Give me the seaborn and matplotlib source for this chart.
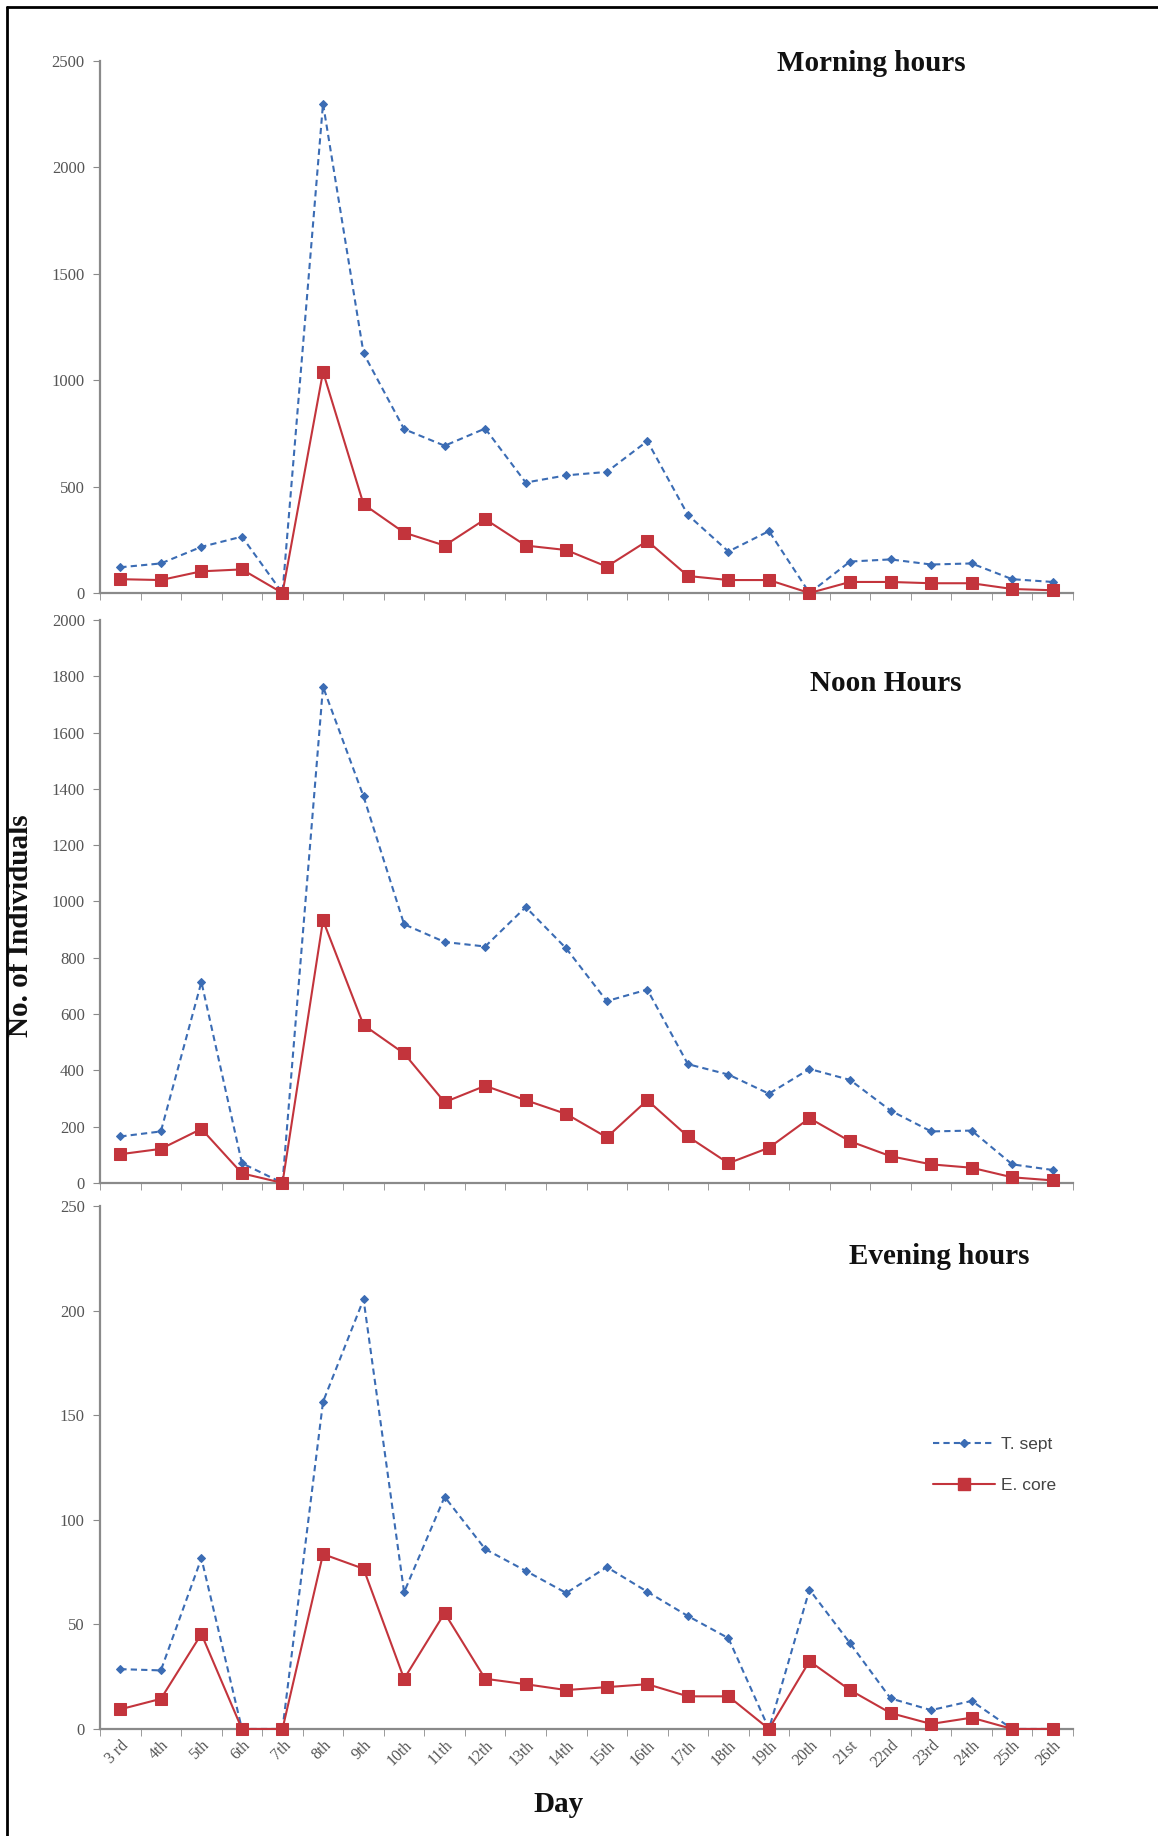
import numpy as np
import pandas as pd
import matplotlib
matplotlib.use("Agg")
import matplotlib.pyplot as plt
from matplotlib.lines import Line2D
import seaborn as sns

# days of observation
days = ["3 rd", "4th", "5th", "6th", "7th", "8th", "9th", "10th", "11th", "12th",
        "13th", "14th", "15th", "16th", "17th", "18th", "19th", "20th", "21st",
        "22nd", "23rd", "24th", "25th", "26th"]

# Morning hours
morning_tsept = [121, 139, 217, 265, 0, 2300, 1126, 770, 692, 773, 519, 553,
                 569, 714, 367, 195, 291, 0, 148, 158, 134, 139, 65, 52]
morning_ecore = [65, 61, 102, 111, 0, 1039, 417, 284, 223, 347, 223, 202,
                 124, 245, 80, 61, 61, 0, 52, 52, 46, 46, 19, 13]

# Noon hours
noon_tsept = [165, 183, 714, 70, 0, 1763, 1373, 919, 856, 840, 980, 833,
              646, 687, 422, 385, 317, 405, 366, 257, 183, 186, 66, 46]
noon_ecore = [102, 121, 192, 34, 0, 933, 561, 460, 287, 345, 294, 245,
              162, 294, 165, 70, 125, 230, 148, 95, 66, 54, 20, 9]

# Evening hours
evening_tsept = [28.6, 28, 81.6, 0, 0, 156.4, 205.4, 65.4, 111, 86, 75.6, 65,
                 77.4, 65.6, 54, 43.4, 0, 66.6, 41, 14.6, 9, 13.4, 0, 0]
evening_ecore = [9.4, 14.4, 45.4, 0, 0, 83.6, 76.6, 24, 55.4, 24, 21.4, 18.6,
                 20, 21.4, 15.6, 15.6, 0, 32.4, 18.6, 7.6, 2.4, 5.4, 0, 0]

panels = [
    ("Morning hours", morning_tsept, morning_ecore, 2500, 500, (0.793, 0.995)),
    ("Noon Hours", noon_tsept, noon_ecore, 2000, 200, (0.808, 0.888)),
    ("Evening hours", evening_tsept, evening_ecore, 250, 50, (0.863, 0.904)),
]

blue = "#3b6cb4"
red = "#c3343c"
tick_gray = "#555555"
spine_gray = "#8a8a8a"

sns.set_style("white")
plt.rcParams["font.family"] = ["Liberation Serif", "DejaVu Serif"]

fig = plt.figure(figsize=(11.58, 18.36), dpi=100)
positions = [
    [0.0864, 0.677, 0.8402, 0.2898],
    [0.0864, 0.3557, 0.8402, 0.3066],
    [0.0864, 0.0583, 0.8402, 0.2848],
]

x = np.arange(len(days))
for i, (title, tsept, ecore, ymax, ystep, tpos) in enumerate(panels):
    ax = fig.add_axes(positions[i])
    df = pd.DataFrame({"x": x, "T. sept": tsept, "E. core": ecore})
    sns.lineplot(data=df, x="x", y="T. sept", ax=ax, color=blue, lw=1.5,
                 linestyle=(0, (3, 2)), marker="D", markersize=4.5,
                 markeredgecolor=blue, zorder=3)
    sns.lineplot(data=df, x="x", y="E. core", ax=ax, color=red, lw=1.5,
                 marker="s", markersize=8, markeredgecolor=red, zorder=4)

    ax.set_xlim(-0.5, len(days) - 0.5)
    ax.set_ylim(0, ymax)
    ax.set_yticks(np.arange(0, ymax + 1, ystep))
    ax.set_xlabel("")
    ax.set_ylabel("")
    for ln in ax.lines:
        ln.set_clip_on(False)

    # ticks between categories, labels at the category centres
    ax.set_xticks(x)
    ax.set_xticks(np.arange(-0.5, len(days), 1.0), minor=True)
    ax.tick_params(axis="x", which="major", length=0, pad=6)
    ax.tick_params(axis="x", which="minor", length=5, color=spine_gray,
                   direction="out", bottom=True)
    ax.tick_params(axis="y", length=5, color=spine_gray, direction="out",
                   left=True, labelsize=12, labelcolor=tick_gray, pad=6)
    if i == 2:
        ax.set_xticklabels(days, rotation=45, ha="right", rotation_mode="anchor",
                           fontsize=11.5, color=tick_gray)
    else:
        ax.set_xticklabels([])

    for s in ["top", "right"]:
        ax.spines[s].set_visible(False)
    for s in ["left", "bottom"]:
        ax.spines[s].set_color(spine_gray)
        ax.spines[s].set_linewidth(1.6)

    ax.text(tpos[0], tpos[1], title, transform=ax.transAxes, ha="center",
            va="center", fontsize=21, fontweight="bold", color="#111111")

    if i == 2:
        handles = [
            Line2D([], [], color=blue, lw=1.5, linestyle=(0, (3, 2)), marker="D",
                   markersize=4.5),
            Line2D([], [], color=red, lw=1.5, marker="s", markersize=8),
        ]
        leg = ax.legend(handles, ["T. sept", "E. core"], loc="center left",
                        bbox_to_anchor=(0.84, 0.505), frameon=False,
                        handlelength=3.6, handletextpad=0.3, labelspacing=1.45,
                        prop={"family": "Liberation Sans", "size": 12.5})
        for t in leg.get_texts():
            t.set_color("#444444")
    else:
        leg = ax.get_legend()
        if leg is not None:
            leg.remove()

fig.text(0.018, 0.496, "No. of Individuals", rotation=90, ha="center",
         va="center", fontsize=21, fontweight="bold", color="#111111")
fig.text(0.482, 0.017, "Day", ha="center", va="center", fontsize=21,
         fontweight="bold", color="#111111")

# frame lines at the left and top edges
fig.add_artist(Line2D([7 / 1158, 7 / 1158], [0, 1 - 7 / 1836], color="black",
                      lw=2, transform=fig.transFigure))
fig.add_artist(Line2D([7 / 1158, 1], [1 - 7 / 1836, 1 - 7 / 1836], color="black",
                      lw=2, transform=fig.transFigure))

fig.savefig("out.png", dpi=100, facecolor="white")
